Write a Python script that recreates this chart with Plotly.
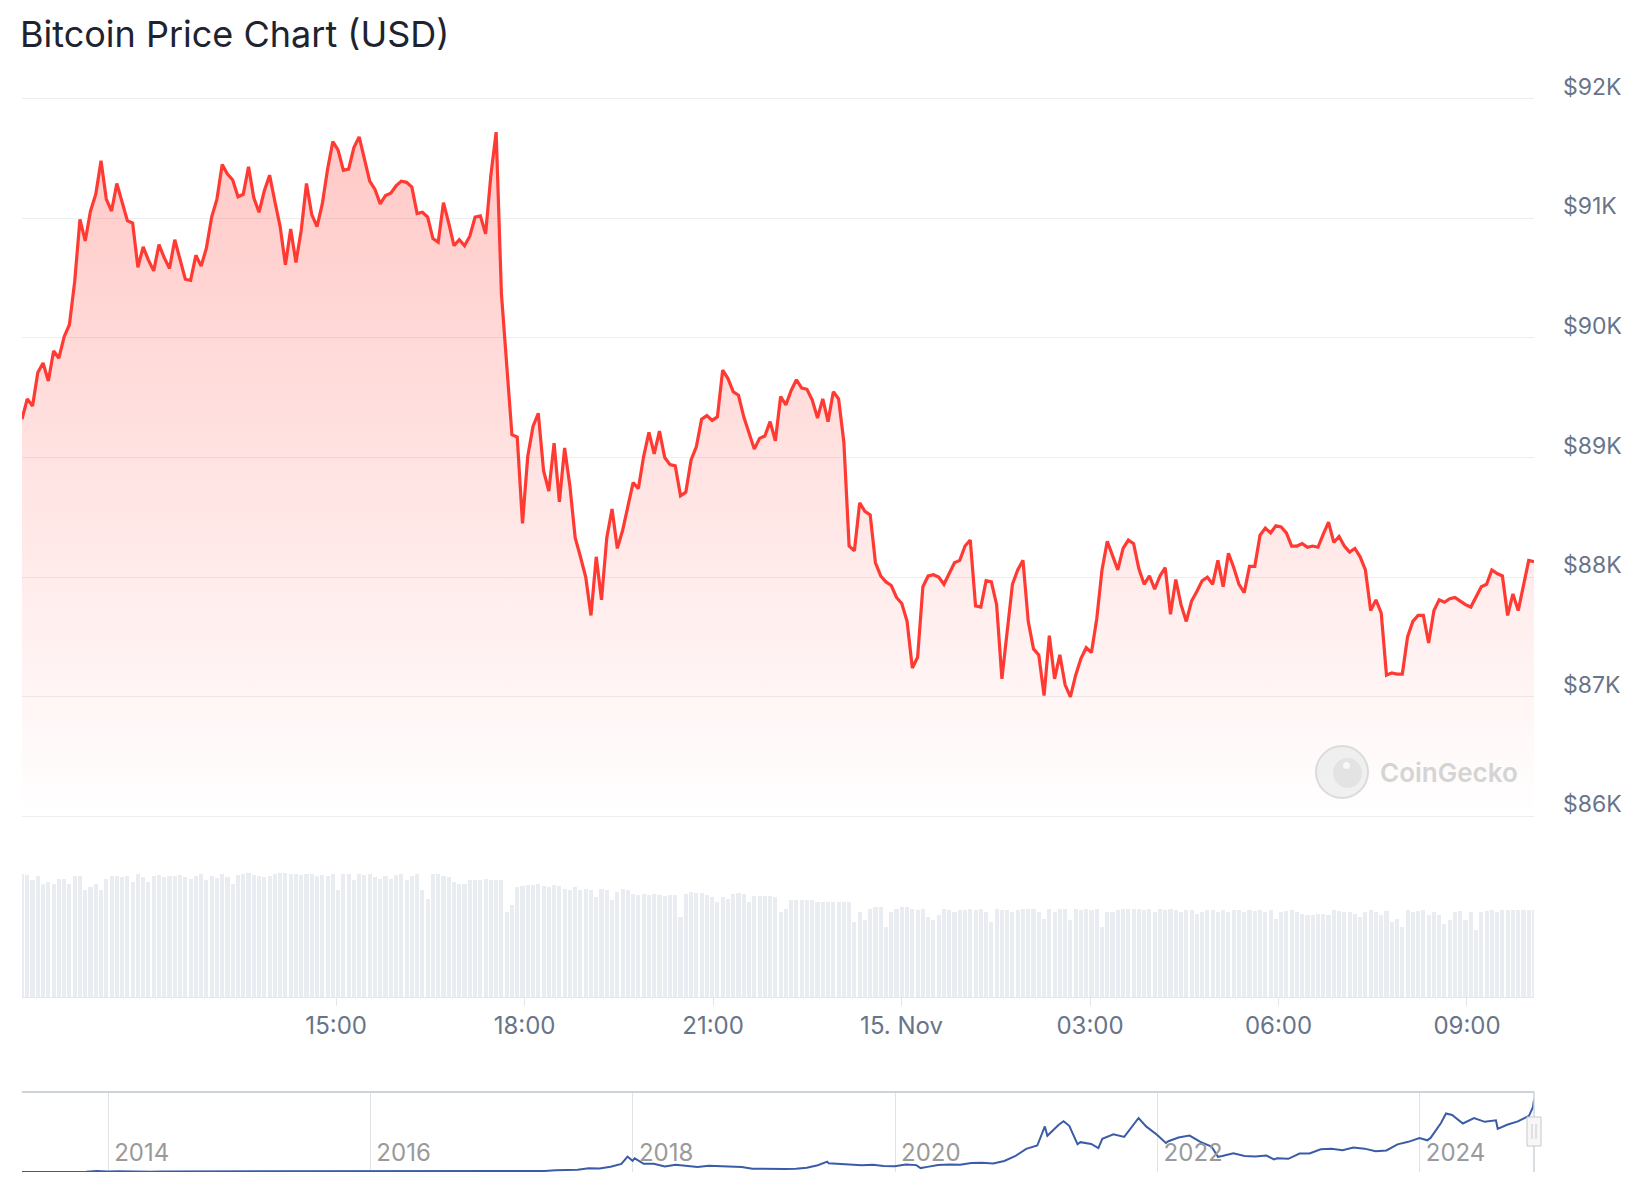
import pandas as pd
import plotly.graph_objects as go

# ---------------- data ----------------
START = "2024-11-14 10:00"
END = "2024-11-15 10:04"

price_usd = [
    89320, 89490, 89430, 89710, 89790, 89640, 89890, 89830, 90010, 90110,
    90470, 90990, 90810, 91060, 91200, 91480, 91160, 91060, 91290, 91130,
    90980, 90960, 90590, 90760, 90650, 90560, 90780, 90670, 90580, 90820,
    90650, 90490, 90480, 90690, 90600, 90750, 91010, 91160, 91450, 91370,
    91320, 91180, 91200, 91430, 91170, 91050, 91230, 91360, 91140, 90930,
    90610, 90910, 90630, 90900, 91290, 91030, 90930, 91120, 91410, 91640,
    91570, 91400, 91410, 91590, 91680, 91500, 91310, 91240, 91120, 91190,
    91210, 91270, 91310, 91300, 91260, 91040, 91050, 91010, 90830, 90800,
    91130, 90960, 90770, 90820, 90770, 90850, 91010, 91020, 90870, 91360,
    91720, 90370, 89770, 89190, 89170, 88450, 89010, 89260, 89370, 88890,
    88720, 89120, 88630, 89080, 88760, 88330, 88170, 88000, 87680, 88170,
    87810, 88330, 88570, 88240, 88390, 88580, 88790, 88740, 89010, 89210,
    89030, 89220, 89000, 88940, 88930, 88680, 88710, 88980, 89090, 89320,
    89350, 89310, 89340, 89730, 89660, 89550, 89520, 89340, 89200, 89070,
    89160, 89180, 89300, 89140, 89510, 89440, 89560, 89650, 89580, 89570,
    89480, 89330, 89490, 89300, 89550, 89490, 89130, 88260, 88220, 88620,
    88550, 88520, 88120, 88010, 87960, 87930, 87830, 87780, 87630, 87240,
    87330, 87920, 88010, 88020, 88000, 87940, 88030, 88120, 88140, 88260,
    88310, 87760, 87750, 87970, 87960, 87770, 87150, 87540, 87940, 88060,
    88140, 87630, 87400, 87350, 87010, 87510, 87150, 87350, 87100, 87000,
    87180, 87320, 87410, 87370, 87650, 88060, 88300, 88180, 88060, 88240,
    88310, 88280, 88070, 87940, 88010, 87900, 88010, 88080, 87690, 87980,
    87770, 87630, 87800, 87880, 87970, 88000, 87940, 88140, 87920, 88200,
    88080, 87940, 87870, 88090, 88090, 88350, 88410, 88370, 88430, 88420,
    88370, 88260, 88260, 88280, 88250, 88260, 88250, 88360, 88460, 88290,
    88340, 88260, 88210, 88240, 88170, 88060, 87720, 87810, 87700, 87180,
    87200, 87190, 87190, 87500, 87630, 87680, 87680, 87450, 87720, 87810,
    87790, 87820, 87830, 87800, 87770, 87750, 87830, 87920, 87940, 88060,
    88030, 88010, 87680, 87860, 87720, 87930, 88140, 88130,
]

# relative traded volume per 5-minute bar
volumes = [
    370, 365, 350, 362, 340, 345, 340, 355, 355, 340,
    362, 362, 320, 330, 338, 320, 355, 362, 362, 360,
    362, 345, 370, 360, 345, 362, 365, 360, 362, 362,
    365, 360, 355, 362, 370, 350, 362, 358, 370, 360,
    340, 365, 370, 372, 365, 362, 360, 362, 370, 372,
    372, 370, 368, 365, 370, 370, 362, 365, 362, 368,
    320, 368, 370, 350, 370, 365, 368, 360, 355, 362,
    355, 365, 370, 350, 362, 368, 320, 295, 368, 370,
    362, 360, 345, 338, 340, 350, 350, 352, 355, 350,
    350, 350, 255, 275, 330, 332, 335,
    335, 338, 332, 330, 335, 332, 325, 320, 330, 322, 325, 320, 300,
    325, 320, 290, 315, 325, 320, 310, 305, 310, 305,
    310, 305, 302, 305, 305, 240, 310, 315, 312, 312,
    305, 300, 285, 300, 295, 310, 312, 310, 285, 302,
    302, 302, 302, 300, 255, 265, 290, 290, 290, 290, 290, 285, 285,
    285, 285, 285, 285, 285, 225, 255, 230, 265,
    270, 270, 210, 255, 265, 270, 270, 265, 260, 265,
    240, 230, 245, 265, 260, 255, 260, 260, 265, 260,
    265, 255, 225, 265, 260, 260, 255, 260, 265, 265,
    265, 255, 235, 265, 255, 265, 265, 230, 265, 260,
    265, 260, 265, 210, 255, 255, 260, 265, 265, 265,
    265, 260, 265, 255, 265, 260, 265, 260, 255, 260,
    260, 250, 255, 260, 260, 255, 260, 255, 260, 260,
    255, 260, 258, 260, 255, 260, 235, 255, 258, 260,
    255, 250, 245, 245, 248, 250, 245, 260, 258, 255,
    255, 250, 240, 255, 260, 255, 245, 258, 225, 235,
    210, 260, 255, 258, 260, 245, 255, 245, 220, 230,
    255, 258, 230, 255, 200, 255, 258, 260, 255, 260,
    260, 260, 260, 260, 260, 260,
]

price_ticks = [86000, 87000, 88000, 89000, 90000, 91000, 92000]
price_tick_labels = ["$86K", "$87K", "$88K", "$89K", "$90K", "$91K", "$92K"]

time_ticks = ["2024-11-14 15:00", "2024-11-14 18:00", "2024-11-14 21:00",
              "2024-11-15 00:00", "2024-11-15 03:00", "2024-11-15 06:00",
              "2024-11-15 09:00"]
time_tick_labels = ["15:00", "18:00", "21:00", "15. Nov", "03:00", "06:00", "09:00"]

# long-term history shown in the navigator
nav_dates = [
    "2013-04-28", "2013-06-01", "2013-07-01", "2013-08-01", "2013-09-01", "2013-10-01",
    "2013-11-01", "2013-11-30", "2013-12-15", "2013-12-31",
    "2014-01-31", "2014-02-28", "2014-03-31", "2014-04-30", "2014-05-31", "2014-06-30",
    "2014-07-31", "2014-08-31", "2014-09-30", "2014-10-31", "2014-11-30", "2014-12-31",
    "2015-01-31", "2015-02-28", "2015-03-31", "2015-04-30", "2015-05-31", "2015-06-30",
    "2015-07-31", "2015-08-31", "2015-09-30", "2015-10-31", "2015-11-30", "2015-12-31",
    "2016-01-31", "2016-02-29", "2016-03-31", "2016-04-30", "2016-05-31", "2016-06-30",
    "2016-07-31", "2016-08-31", "2016-09-30", "2016-10-31", "2016-11-30", "2016-12-31",
    "2017-01-31", "2017-02-28", "2017-03-31", "2017-04-30", "2017-05-31", "2017-06-30",
    "2017-07-31", "2017-08-31", "2017-09-30", "2017-10-31", "2017-11-30", "2017-12-17",
    "2017-12-31",
    "2018-01-06", "2018-01-31", "2018-02-28", "2018-03-31", "2018-04-30", "2018-05-31",
    "2018-06-30", "2018-07-31", "2018-08-31", "2018-09-30", "2018-10-31", "2018-11-30",
    "2018-12-31",
    "2019-01-31", "2019-02-28", "2019-03-31", "2019-04-30", "2019-05-31", "2019-06-26",
    "2019-06-30", "2019-07-31", "2019-08-31", "2019-09-30", "2019-10-31", "2019-11-30",
    "2019-12-31",
    "2020-01-31", "2020-02-29", "2020-03-12", "2020-03-31", "2020-04-30", "2020-05-31",
    "2020-06-30", "2020-07-31", "2020-08-31", "2020-09-30", "2020-10-31", "2020-11-30",
    "2020-12-31",
    "2021-01-31", "2021-02-21", "2021-02-28", "2021-03-31", "2021-04-14", "2021-04-30",
    "2021-05-23", "2021-05-31", "2021-06-30", "2021-07-20", "2021-07-31", "2021-08-31",
    "2021-09-30", "2021-10-31", "2021-11-09", "2021-11-30", "2021-12-31",
    "2022-01-24", "2022-01-31", "2022-02-28", "2022-03-31", "2022-04-30", "2022-05-31",
    "2022-06-18", "2022-06-30", "2022-07-31", "2022-08-31", "2022-09-30", "2022-10-31",
    "2022-11-21", "2022-11-30", "2022-12-31",
    "2023-01-31", "2023-02-28", "2023-03-31", "2023-04-30", "2023-05-31", "2023-06-30",
    "2023-07-31", "2023-08-31", "2023-09-30", "2023-10-31", "2023-11-30", "2023-12-31",
    "2024-01-22", "2024-01-31", "2024-02-29", "2024-03-14", "2024-03-31", "2024-04-30",
    "2024-05-31", "2024-06-30", "2024-07-31", "2024-08-05", "2024-08-31", "2024-09-30",
    "2024-10-31", "2024-11-11", "2024-11-14", "2024-11-15",
]
nav_prices = [
    135, 120, 90, 105, 135, 125, 200, 1130, 800, 750,
    820, 550, 460, 450, 630, 640, 585, 480, 390, 340, 380, 320,
    220, 255, 245, 235, 230, 260, 285, 230, 236, 315, 378, 430,
    370, 437, 416, 448, 530, 673, 624, 575, 609, 700, 742, 963,
    970, 1190, 1080, 1350, 2300, 2480, 2870, 4700, 4340, 6470, 10200, 19300,
    14000,
    17100, 10200, 10300, 6900, 9200, 7500, 6400, 7800, 7000, 6600, 6300, 4000,
    3700,
    3450, 3800, 4100, 5300, 8500, 12900, 10800, 10100, 9600, 8300, 9150, 7550,
    7200,
    9350, 8600, 4900, 6400, 8600, 9450, 9140, 11300, 11650, 10780, 13800, 19700,
    29000,
    33100, 57000, 45200, 58800, 63500, 57700, 34700, 37300, 35000, 29800, 41500, 47100,
    43800, 61300, 67500, 57000, 46300,
    36300, 38500, 43200, 45500, 37700, 31800, 19000, 19900, 23300, 20000, 19400, 20500,
    15800, 17200, 16500,
    23100, 23150, 28500, 29200, 27200, 30500, 29200, 25900, 27000, 34500, 37700, 42300,
    39600, 42600, 61200, 73100, 71300, 60600, 67500, 62700, 64600, 54000, 59000, 63300,
    70200, 81000, 90500, 88100,
]

# ---------------- figure ----------------
# the page body has an 8px margin; positions below are page pixels
BODY = 8
W, H = 1644 - BODY, 1200 - BODY


def fy(py):
    return 1 - (py - BODY) / H


def fx(px):
    return (px - BODY) / W


times = pd.date_range(START, END, periods=len(price_usd))
bar_w = 5 * 60 * 1000 * 0.78

FONT = "Inter"
LABEL = "#677489"
RED = "#FF3A33"

fig = go.Figure()

fig.add_trace(go.Bar(
    x=times, y=volumes, width=bar_w, marker=dict(color="#E9EDF1", line=dict(width=0)),
    xaxis="x", yaxis="y2", hoverinfo="skip", showlegend=False,
))

fig.add_trace(go.Scatter(
    x=times, y=price_usd, mode="lines", line=dict(color=RED, width=3.2),
    fill="tozeroy",
    fillgradient=dict(type="vertical", start=86000, stop=91800,
                      colorscale=[[0, "rgba(255,58,51,0.0)"], [1, "rgba(255,58,51,0.28)"]]),
    xaxis="x", yaxis="y", showlegend=False,
))

fig.add_trace(go.Scatter(
    x=nav_dates, y=nav_prices, mode="lines", line=dict(color="#3A5CA8", width=2),
    xaxis="x2", yaxis="y3", showlegend=False, hoverinfo="skip",
))

PLOT_L, PLOT_R = 22, 1534
x_dom = [fx(PLOT_L), fx(PLOT_R)]

# price pane: $92K grid at page y 98.6, $86K grid at 816.4 (range padded so the
# outer gridlines are drawn)
PAD = 30
px_per_usd = (816.4 - 98.6) / 6000
price_dom = [fy(816.4 + PAD * px_per_usd), fy(98.6 - PAD * px_per_usd)]

fig.update_layout(
    width=W, height=H, autosize=False,
    margin=dict(l=0, r=0, t=0, b=0, autoexpand=False),
    paper_bgcolor="white", plot_bgcolor="rgba(0,0,0,0)",
    font=dict(family=FONT, color=LABEL),
    bargap=0,
    title=dict(text="Bitcoin Price Chart (USD)", xref="container", yref="container",
               x=fx(20), xanchor="left", y=fy(34.6), yanchor="middle", automargin=False,
               font=dict(family=FONT, size=36, color="#1E2330")),
    xaxis=dict(
        domain=x_dom, anchor="y2", type="date", range=[START, END],
        tickvals=time_ticks, ticktext=time_tick_labels,
        ticks="outside", ticklen=8, tickcolor="#E3E6EA", tickwidth=1,
        ticklabelstandoff=-1,
        showline=True, linecolor="#E3E6EA", linewidth=1,
        showgrid=False, zeroline=False, automargin=False,
        tickfont=dict(family=FONT, size=24, color=LABEL),
    ),
    yaxis=dict(
        domain=price_dom, anchor="x", side="right",
        range=[86000 - PAD, 92000 + PAD], tickvals=price_ticks, ticktext=price_tick_labels,
        showgrid=True, gridcolor="#ECEEF0", gridwidth=1,
        zeroline=False, showline=False, automargin=False,
        ticks="", ticklabelposition="outside", ticklabelstandoff=28,
        ticklabelshift=-12,
        tickfont=dict(family=FONT, size=23, color=LABEL),
    ),
    yaxis2=dict(
        domain=[fy(997), fy(873)], anchor="x", range=[0, 372], visible=False,
    ),
    xaxis2=dict(
        domain=x_dom, anchor="y3", type="date", range=["2013-05-06", "2024-11-14"],
        tick0="2014-01-01", dtick="M24", tickformat="%Y",
        showgrid=True, gridcolor="#E3E3E3", gridwidth=1,
        ticks="", ticklabelposition="inside right", ticklabelshift=6,
        showline=False, zeroline=False, automargin=False,
        tickfont=dict(family=FONT, size=24, color="#9A9A9A"),
    ),
    yaxis3=dict(
        domain=[fy(1172), fy(1092)], anchor="x2", range=[0, 100000], visible=False,
    ),
    shapes=[
        # navigator outline
        dict(type="line", xref="paper", yref="paper", x0=fx(PLOT_L), x1=fx(PLOT_R),
             y0=fy(1092), y1=fy(1092), line=dict(color="#CDD3DA", width=2)),
        dict(type="line", xref="paper", yref="paper", x0=fx(PLOT_R), x1=fx(PLOT_R),
             y0=fy(1092), y1=fy(1172), line=dict(color="#CDD3DA", width=1.5)),
        # navigator handle
        dict(type="rect", xref="paper", yref="paper", x0=fx(1527), x1=fx(1541),
             y0=fy(1117), y1=fy(1146), fillcolor="#F7F7F7",
             line=dict(color="#C8C8C8", width=1)),
        dict(type="line", xref="paper", yref="paper", x0=fx(1532), x1=fx(1532),
             y0=fy(1124), y1=fy(1139), line=dict(color="#C8C8C8", width=1)),
        dict(type="line", xref="paper", yref="paper", x0=fx(1536), x1=fx(1536),
             y0=fy(1124), y1=fy(1139), line=dict(color="#C8C8C8", width=1)),
        # watermark logo
        dict(type="circle", xref="paper", yref="paper", x0=fx(1316), x1=fx(1368),
             y0=fy(798), y1=fy(746), fillcolor="rgba(236,236,236,0.8)",
             line=dict(color="rgba(216,216,216,0.9)", width=2)),
        dict(type="circle", xref="paper", yref="paper", x0=fx(1333), x1=fx(1362),
             y0=fy(788), y1=fy(758), fillcolor="rgba(224,224,224,0.8)",
             line=dict(width=0)),
        dict(type="circle", xref="paper", yref="paper", x0=fx(1343), x1=fx(1350),
             y0=fy(769), y1=fy(762), fillcolor="rgba(250,250,250,0.9)",
             line=dict(width=0)),
    ],
    annotations=[
        dict(text="CoinGecko", xref="paper", yref="paper", x=fx(1378), y=fy(772),
             xanchor="left", yanchor="middle", showarrow=False,
             font=dict(family=FONT, size=26, color="#D4D4D4", weight=600)),
    ],
)

fig.write_html("out.html", config={"displayModeBar": False})
